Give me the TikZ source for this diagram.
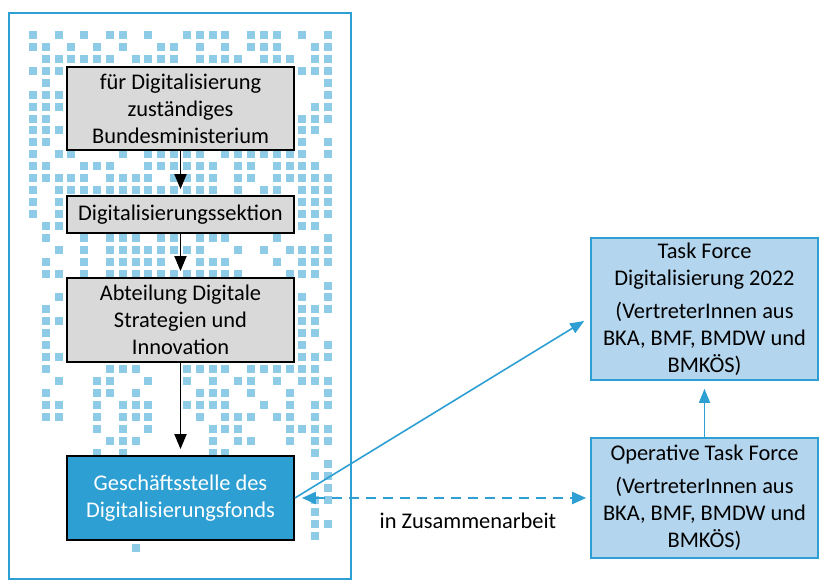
\documentclass[tikz,border=0pt]{standalone}
\usepackage{fontspec}
\setmainfont{Carlito}
\usetikzlibrary{arrows.meta}
\definecolor{rahmenblau}{HTML}{2E9FD3}
\definecolor{punktblau}{HTML}{8DCBE6}
\definecolor{hellblau}{HTML}{B4D5EE}
\definecolor{boxgrau}{HTML}{D9D9D9}
\tikzset{
  schrift/.style={font=\fontsize{22.4}{27}\selectfont},
  graubox/.style={schrift, draw=black, line width=1.8pt, fill=boxgrau, minimum width=227pt, inner sep=0pt, align=center},
  fondsbox/.style={graubox, fill=rahmenblau, text=white},
  taskbox/.style={schrift, draw=rahmenblau, line width=1.6pt, fill=hellblau, minimum width=227pt, inner sep=0pt, align=center},
  schwarzpfeil/.style={draw=black, line width=1.8pt, -{Triangle[length=15pt,width=12pt]}, shorten >=6pt},
  blaupfeil/.style={draw=rahmenblau, line width=1.6pt, -{Triangle[length=14pt,width=11pt]}},
  zusammen/.style={draw=rahmenblau, line width=2.2pt, dash pattern=on 10pt off 7pt,
    {Triangle[length=14pt,width=12pt]}-{Triangle[length=14pt,width=12pt]}}
}
\begin{document}
\begin{tikzpicture}[x=1pt,y=-1pt]
		\useasboundingbox (0,0) rectangle (819,585);

		% Muster
		\foreach \r/\cols in {
			0/{0,2,4,6,7,9,12,13,14,15,17,18,19,21,23},
			1/{0,1,3,5,7,10,11,13,15,17,18,19,22,23},
			2/{1,2,3,4,5,6,8,9,10,11,13,14,15,16,18,19,20,22,23},
			3/{0,1,2,21,22,23}, 4/{1,23}, 5/{0,1,2,23}, 6/{0,1,2,22,23},
			7/{0,1,21,22,23}, 8/{0,1,2,21,22}, 9/{0,1,21,23},
			10/{0,2,3,7,9,10,11,12,13,15,16,17,18,19,20,21,23},
			11/{0,1,4,5,6,9,10,11,12,13,14,16,17,19,20,21,22},
			12/{0,1,2,3,4,6,7,8,9,11,12,13,14,16,17,19,20,21,22,23},
			13/{0,2,3,4,5,6,7,8,9,10,11,12,13,14,16,18,19,21,22,23},
			14/{0,2,21,22,23}, 15/{0,2,21,22,23}, 16/{1,2,21,22},
			17/{1,4,6,7,8,10,11,13,14,15,19,23},
			18/{2,4,6,7,8,9,10,11,12,13,16,18,20,21,22,23},
			19/{1,4,6,7,8,9,10,13,14,15,19,21,22,23},
			20/{1,2,4,6,7,8,9,10,11,12,13,14,15,16,20,21,22},
			21/{23}, 22/{2,21,23}, 23/{1,21,22,23}, 24/{1,2,21,22},
			25/{1,21,22}, 26/{1,21,23}, 27/{1,2,21,22,23},
			28/{1,6,7,8,12,13,14,15,17,18,19,20,21,22},
			29/{2,5,6,9,12,14,16,17,19,21,22,23},
			30/{1,5,6,8,13,14,15,17,20,23},
			31/{1,2,5,7,8,9,12,13,14,15,18,20,22,23},
			32/{1,2,5,7,8,9,13,15,16,17,19,20,22},
			33/{5,7,9,14,15,16,20,21,22,23},
			34/{6,7,8,14,16,17,20,22,23},
			35/{5,7,14,15,22},
			36/{23}, 37/{22,23}, 38/{23}, 39/{22,23}, 40/{22}, 41/{22,23}, 42/{22}, 43/{8}}
			\foreach \c in \cols
				\fill[punktblau] ({29+12.83*\c},{31+11.93*\r}) rectangle ++(8,8);

		% Rahmen
		\draw[rahmenblau, line width=1.8pt] (9,13) rectangle (351,579);

		% Linke Spalte
		\node[graubox, minimum height=83pt] (bm) at (180.5,108.5) {für Digitalisierung\\zuständiges\\Bundesministerium};
		\node[graubox, minimum height=37pt] (sektion) at (180.5,214.5) {Digitalisierungssektion};
		\node[graubox, minimum height=84pt] (abteilung) at (180.5,320) {Abteilung Digitale\\Strategien und\\Innovation};
		\node[fondsbox, minimum height=84pt] (fonds) at (180.5,498) {Geschäftsstelle des\\Digitalisierungsfonds};
		\draw[schwarzpfeil] (bm) -- (sektion);
		\draw[schwarzpfeil] (sektion) -- (abteilung);
		\draw[schwarzpfeil] (abteilung) -- (fonds);

		% Task Force
		\node[taskbox, minimum height=142pt] (taskforce) at (704.5,309) {Task Force\\Digitalisierung 2022\\[6pt](VertreterInnen aus\\BKA, BMF, BMDW und\\BMKÖS)};
		\node[taskbox, minimum height=120pt] (operativ) at (704.5,498) {Operative Task Force\\[6pt](VertreterInnen aus\\BKA, BMF, BMDW und\\BMKÖS)};
		\draw[blaupfeil, shorten >=8pt] (operativ) -- (taskforce);
		\draw[blaupfeil] (fonds.east) -- ([xshift=-6pt,yshift=-12pt]taskforce.west);
		\draw[zusammen, shorten <=7pt, shorten >=4pt] (fonds.east) -- (operativ.west);
		\node[schrift] (zusammenarbeit) at (468,521) {in Zusammenarbeit};
	\end{tikzpicture}
\end{document}
